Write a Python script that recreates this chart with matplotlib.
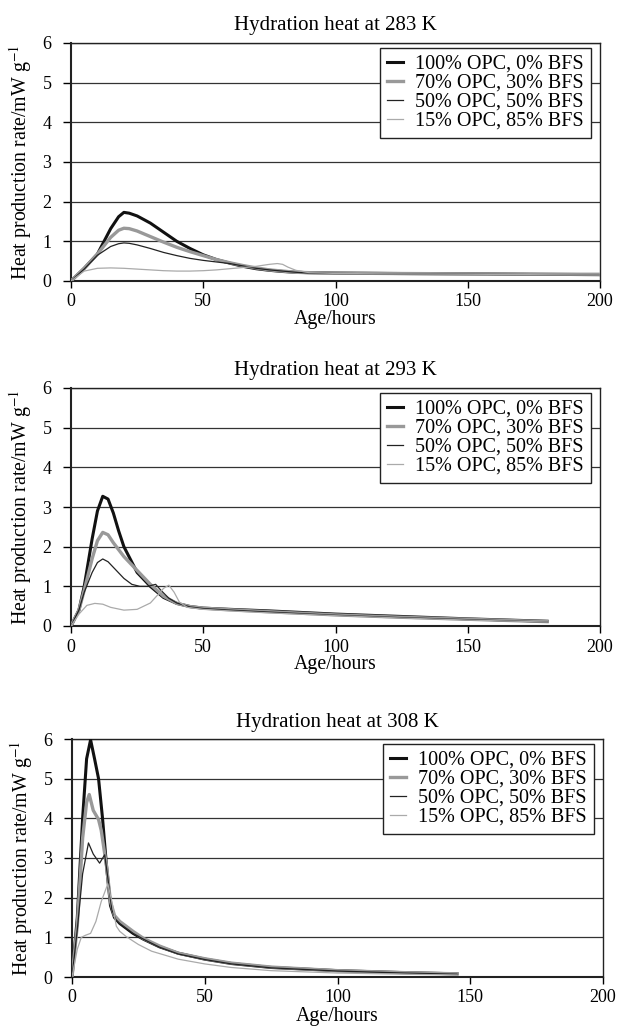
import numpy as np
import matplotlib
matplotlib.use("Agg")
import matplotlib.pyplot as plt

plt.rcParams['font.family'] = ['Liberation Serif', 'DejaVu Serif']
plt.rcParams['mathtext.fontset'] = 'stix'
plt.rcParams['font.size'] = 13

labels = ['100% OPC, 0% BFS', '70% OPC, 30% BFS', '50% OPC, 50% BFS', '15% OPC, 85% BFS']
titles = ['Hydration heat at 283 K', 'Hydration heat at 293 K', 'Hydration heat at 308 K']

# ---- 283 K
t283_a = [0, 5, 10, 15, 18, 20, 22, 25, 30, 35, 40, 45, 50, 55, 60, 65, 70, 75, 80, 85, 90, 100, 120, 150, 175, 200]
q283_a = [0, 0.32, 0.68, 1.32, 1.62, 1.73, 1.71, 1.64, 1.46, 1.23, 1.0, 0.82, 0.66, 0.54, 0.45, 0.37, 0.31, 0.27, 0.24, 0.22, 0.21, 0.2, 0.19, 0.18, 0.17, 0.16]
t283_b = [0, 5, 10, 15, 18, 20, 22, 25, 30, 35, 40, 45, 50, 55, 60, 65, 70, 75, 80, 85, 90, 100, 120, 150, 175, 200]
q283_b = [0, 0.32, 0.68, 1.1, 1.28, 1.33, 1.32, 1.26, 1.12, 0.98, 0.85, 0.74, 0.64, 0.54, 0.46, 0.39, 0.33, 0.28, 0.25, 0.22, 0.21, 0.2, 0.19, 0.18, 0.17, 0.17]
t283_c = [0, 5, 10, 15, 18, 20, 22, 25, 30, 35, 40, 45, 50, 55, 60, 65, 70, 75, 80, 85, 90, 100, 120, 150, 175, 200]
q283_c = [0, 0.3, 0.65, 0.87, 0.94, 0.96, 0.95, 0.91, 0.82, 0.72, 0.64, 0.57, 0.52, 0.48, 0.44, 0.38, 0.32, 0.28, 0.25, 0.22, 0.2, 0.19, 0.18, 0.17, 0.16, 0.15]
t283_d = [0, 5, 10, 15, 20, 25, 30, 35, 40, 45, 50, 55, 60, 65, 70, 75, 78, 80, 82, 85, 90, 100, 120, 150, 175, 200]
q283_d = [0, 0.25, 0.32, 0.33, 0.32, 0.3, 0.28, 0.26, 0.25, 0.25, 0.26, 0.28, 0.31, 0.34, 0.37, 0.42, 0.44, 0.42, 0.35, 0.27, 0.21, 0.19, 0.18, 0.17, 0.16, 0.15]

# ---- 293 K
t293_a = [0, 3, 5, 8, 10, 12, 14, 16, 18, 20, 25, 30, 35, 40, 45, 50, 60, 75, 100, 125, 150, 180]
q293_a = [0, 0.4, 1.0, 2.2, 2.9, 3.27, 3.2, 2.85, 2.4, 2.0, 1.35, 1.0, 0.72, 0.57, 0.49, 0.45, 0.42, 0.38, 0.3, 0.24, 0.18, 0.12]
t293_b = [0, 3, 5, 8, 10, 12, 14, 16, 20, 25, 30, 35, 40, 45, 50, 60, 75, 100, 125, 150, 180]
q293_b = [0, 0.4, 0.9, 1.7, 2.15, 2.36, 2.3, 2.1, 1.75, 1.4, 1.05, 0.75, 0.57, 0.49, 0.45, 0.41, 0.36, 0.28, 0.22, 0.17, 0.11]
t293_c = [0, 3, 5, 8, 10, 12, 14, 16, 20, 23, 26, 29, 32, 34, 37, 40, 45, 50, 60, 75, 100, 125, 150, 180]
q293_c = [0, 0.4, 0.85, 1.35, 1.6, 1.69, 1.62, 1.48, 1.2, 1.05, 1.0, 1.0, 1.05, 0.9, 0.7, 0.58, 0.48, 0.44, 0.4, 0.35, 0.27, 0.21, 0.16, 0.1]
t293_d = [0, 3, 6, 9, 12, 15, 20, 25, 30, 33, 35, 37, 39, 41, 44, 50, 60, 75, 100, 125, 150, 180]
q293_d = [0, 0.3, 0.52, 0.57, 0.55, 0.47, 0.4, 0.42, 0.58, 0.8, 0.95, 1.03, 0.85, 0.6, 0.47, 0.42, 0.38, 0.33, 0.26, 0.2, 0.15, 0.1]

# ---- 308 K
t308_a = [0, 2, 4, 5.5, 7, 8.5, 10, 11.5, 13, 14.5, 16, 18, 20, 23, 27, 33, 40, 50, 60, 75, 100, 125, 145]
q308_a = [0, 1.5, 4.0, 5.5, 5.98, 5.5, 5.0, 4.0, 2.8, 1.8, 1.5, 1.35, 1.25, 1.1, 0.95, 0.76, 0.6, 0.45, 0.34, 0.24, 0.16, 0.11, 0.08]
t308_b = [0, 2, 4, 5.5, 6.5, 8, 10, 11, 13, 14.5, 16, 18, 20, 23, 27, 33, 40, 50, 60, 75, 100, 125, 145]
q308_b = [0, 1.3, 3.5, 4.4, 4.6, 4.2, 3.97, 3.7, 2.8, 1.9, 1.55, 1.4, 1.3, 1.15, 0.97, 0.78, 0.6, 0.46, 0.35, 0.25, 0.16, 0.11, 0.08]
t308_c = [0, 2, 4, 6.2, 8, 10.4, 12.3, 13.5, 15, 16.5, 18, 20, 23, 27, 33, 40, 50, 60, 75, 100, 125, 145]
q308_c = [0, 1.2, 2.6, 3.38, 3.1, 2.87, 3.08, 2.5, 1.7, 1.45, 1.35, 1.25, 1.1, 0.95, 0.75, 0.58, 0.44, 0.33, 0.23, 0.15, 0.1, 0.07]
t308_d = [0, 2, 3.5, 5, 7, 9, 11, 13.5, 15, 16.7, 18, 20.4, 25, 30, 40, 50, 60, 75, 100, 125, 145]
q308_d = [0, 0.7, 1.0, 1.05, 1.1, 1.4, 1.9, 2.35, 1.9, 1.28, 1.15, 1.02, 0.82, 0.65, 0.45, 0.33, 0.24, 0.16, 0.1, 0.07, 0.05]

panels = [
    [(t283_a, q283_a), (t283_b, q283_b), (t283_c, q283_c), (t283_d, q283_d)],
    [(t293_a, q293_a), (t293_b, q293_b), (t293_c, q293_c), (t293_d, q293_d)],
    [(t308_a, q308_a), (t308_b, q308_b), (t308_c, q308_c), (t308_d, q308_d)],
]
styles = [('#111111', 2.2), ('#999999', 2.4), ('#222222', 0.9), ('#aaaaaa', 0.9)]

fig = plt.figure(figsize=(6.28, 10.3), dpi=100)
W, H = 628.0, 1030.0
boxes = [(71, 43, 600, 281), (71, 388, 600, 626), (72, 739, 603, 977)]

for k, series in enumerate(panels):
    x0, y0, x1, y1 = boxes[k]
    ax = fig.add_axes([x0 / W, 1 - y1 / H, (x1 - x0) / W, (y1 - y0) / H])
    for i, (t, q) in enumerate(series):
        c, lw = styles[i]
        ax.plot(t, q, color=c, lw=lw, label=labels[i], zorder=3)
    ax.set_xlim(0, 200)
    ax.set_ylim(0, 6)
    ax.set_xticks([0, 50, 100, 150, 200])
    ax.set_yticks(range(7))
    ax.yaxis.grid(True, color='#333333', lw=0.9)
    ax.set_axisbelow(True)
    for s in ax.spines.values():
        s.set_color('#222222')
        s.set_linewidth(1.0)
    ax.spines['left'].set_linewidth(1.5)
    ax.spines['bottom'].set_linewidth(1.5)
    ax.tick_params(axis='x', direction='out', length=5, width=1, labelsize=13, pad=4)
    ax.tick_params(axis='y', direction='out', length=6, width=1, labelsize=13, pad=8)
    ax.set_title(titles[k], fontsize=15, pad=9)
    ax.set_xlabel('Age/hours', fontsize=14.3, labelpad=0)
    ax.set_ylabel('Heat production rate/mW g$^{-1}$', fontsize=14.3, labelpad=6)
    leg = ax.legend(loc='upper right', bbox_to_anchor=(0.983, 0.981), borderaxespad=0,
                    fontsize=14.5, frameon=True, fancybox=False, edgecolor='#222222',
                    framealpha=1, handlelength=0.8, handletextpad=0.6,
                    labelspacing=0.0, borderpad=0.35)
    leg.get_frame().set_linewidth(1.0)

fig.savefig('out.png', dpi=100)
